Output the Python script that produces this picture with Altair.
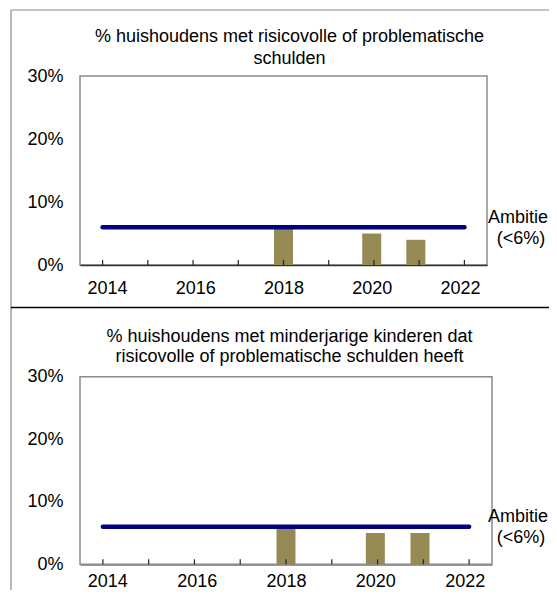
import altair as alt
import pandas as pd

# ---- data ----
bar_years = [2018, 2020, 2021]
top_values = [6, 5, 4]          # % huishoudens met risicovolle of problematische schulden
bottom_values = [6, 5, 5]       # % huishoudens met minderjarige kinderen
ambition_years = [2014, 2022]
ambition_value = 6
tick_years = [2014, 2015, 2016, 2017, 2018, 2019, 2020, 2021, 2022]
label_years = [2014, 2016, 2018, 2020, 2022]
y_ticks = [0, 10, 20, 30]
top_title = ["% huishoudens met risicovolle of problematische", "schulden"]
bottom_title = ["% huishoudens met minderjarige kinderen dat",
                "risicovolle of problematische schulden heeft"]
ambition_label = ["Ambitie", "(<6%)"]

FONT = "Liberation Sans"
BAR = "#968a54"
NAVY = "#000080"
GRAY = "#8a8a8a"
DARK = "#333333"

W1, H1 = 407, 189            # top plot area
W2 = 412                     # bottom plot width
B_TOP, B_BOT = 300.7, 488.3  # bottom plot area, relative to top plot origin

one = pd.DataFrame({"k": [0]})
line_df = pd.DataFrame({"year": ambition_years,
                        "value": [ambition_value] * len(ambition_years)})
ticks_df = pd.DataFrame({"year": tick_years})


def txt(s, x, y):
    return alt.Chart(one).mark_text(
        font=FONT, fontSize=18, align="center", baseline="middle", color="black"
    ).encode(x=alt.value(x), y=alt.value(y), text=alt.value(s))


def panel(values, x_range, y_range, axis_offset, label_pad):
    xs = alt.Scale(domain=[2013.5, 2022.5], range=x_range, nice=False, zero=False)
    ys = alt.Scale(domain=[0, 30], range=y_range, nice=False, zero=False)
    x_axis = alt.Axis(values=label_years, format="d", title=None, grid=False,
                      ticks=False, tickSize=0, labelPadding=label_pad,
                      labelFontSize=18, labelFont=FONT, labelColor="black",
                      domainColor=DARK, domainWidth=1.5, orient="bottom",
                      offset=axis_offset)
    y_axis = alt.Axis(values=y_ticks, labelExpr="datum.value + '%'", title=None,
                      grid=False, ticks=False, tickSize=0, domain=False,
                      labelPadding=17, labelFontSize=18, labelFont=FONT,
                      labelColor="black", orient="left")
    bars_df = pd.DataFrame({"year": bar_years, "value": values})
    bars = alt.Chart(bars_df).mark_bar(size=19, color=BAR).encode(
        x=alt.X("year:Q", scale=xs, axis=x_axis),
        y=alt.Y("value:Q", scale=ys, axis=y_axis),
    )
    base_y = y_range[0]
    ticks = alt.Chart(ticks_df).mark_rule(color="#222222", strokeWidth=1.2).encode(
        x=alt.X("year:Q", scale=xs, axis=None),
        y=alt.value(base_y), y2=alt.value(base_y - 5))
    line = alt.Chart(line_df).mark_line(color=NAVY, strokeWidth=4.5,
                                        strokeCap="round").encode(
        x=alt.X("year:Q", scale=xs, axis=None),
        y=alt.Y("value:Q", scale=ys, axis=None))
    return [bars, ticks, line]


# frames and separators (decoration, in pixels relative to the top plot area)
frame_left = alt.Chart(one).mark_rule(color=GRAY, strokeWidth=1.2).encode(
    x=alt.value(-69), y=alt.value(-66), y2=alt.value(540))
frame_top = alt.Chart(one).mark_rule(color=GRAY, strokeWidth=1.2).encode(
    x=alt.value(-69), x2=alt.value(560), y=alt.value(-66))
divider = alt.Chart(one).mark_rule(color="black", strokeWidth=1.6).encode(
    x=alt.value(-69), x2=alt.value(560), y=alt.value(231.5))
bottom_box = alt.Chart(one).mark_rect(fillOpacity=0, stroke=GRAY, strokeWidth=1.5).encode(
    x=alt.value(0), x2=alt.value(W2), y=alt.value(B_TOP), y2=alt.value(B_BOT))

top_layers = panel(top_values, [0, W1], [H1, 0], 0, 14)
bottom_layers = panel(bottom_values, [0, W2], [B_BOT, B_TOP], B_BOT - H1, 8)

layers = ([frame_left, frame_top, divider, bottom_box] + top_layers + bottom_layers +
          [txt(top_title[0], 209.5, -39), txt(top_title[1], 209.5, -17),
           txt(bottom_title[0], 209.5, 260.7), txt(bottom_title[1], 209.5, 281.3),
           txt(ambition_label[0], 438, 142), txt(ambition_label[1], 441, 163),
           txt(ambition_label[0], 438, 441), txt(ambition_label[1], 441, 462)])

chart = alt.layer(*layers).resolve_scale(
    x="independent", y="independent"
).resolve_axis(
    x="independent", y="independent"
).properties(
    width=W1, height=H1,
    autosize=alt.AutoSizeParams(type="none"),
    padding={"left": 72, "top": 68, "right": 62, "bottom": 325},
    background="white",
).configure_view(stroke=GRAY, strokeWidth=1.5, fill=None)

chart.save("out.html", embed_options={"renderer": "svg", "actions": False})
